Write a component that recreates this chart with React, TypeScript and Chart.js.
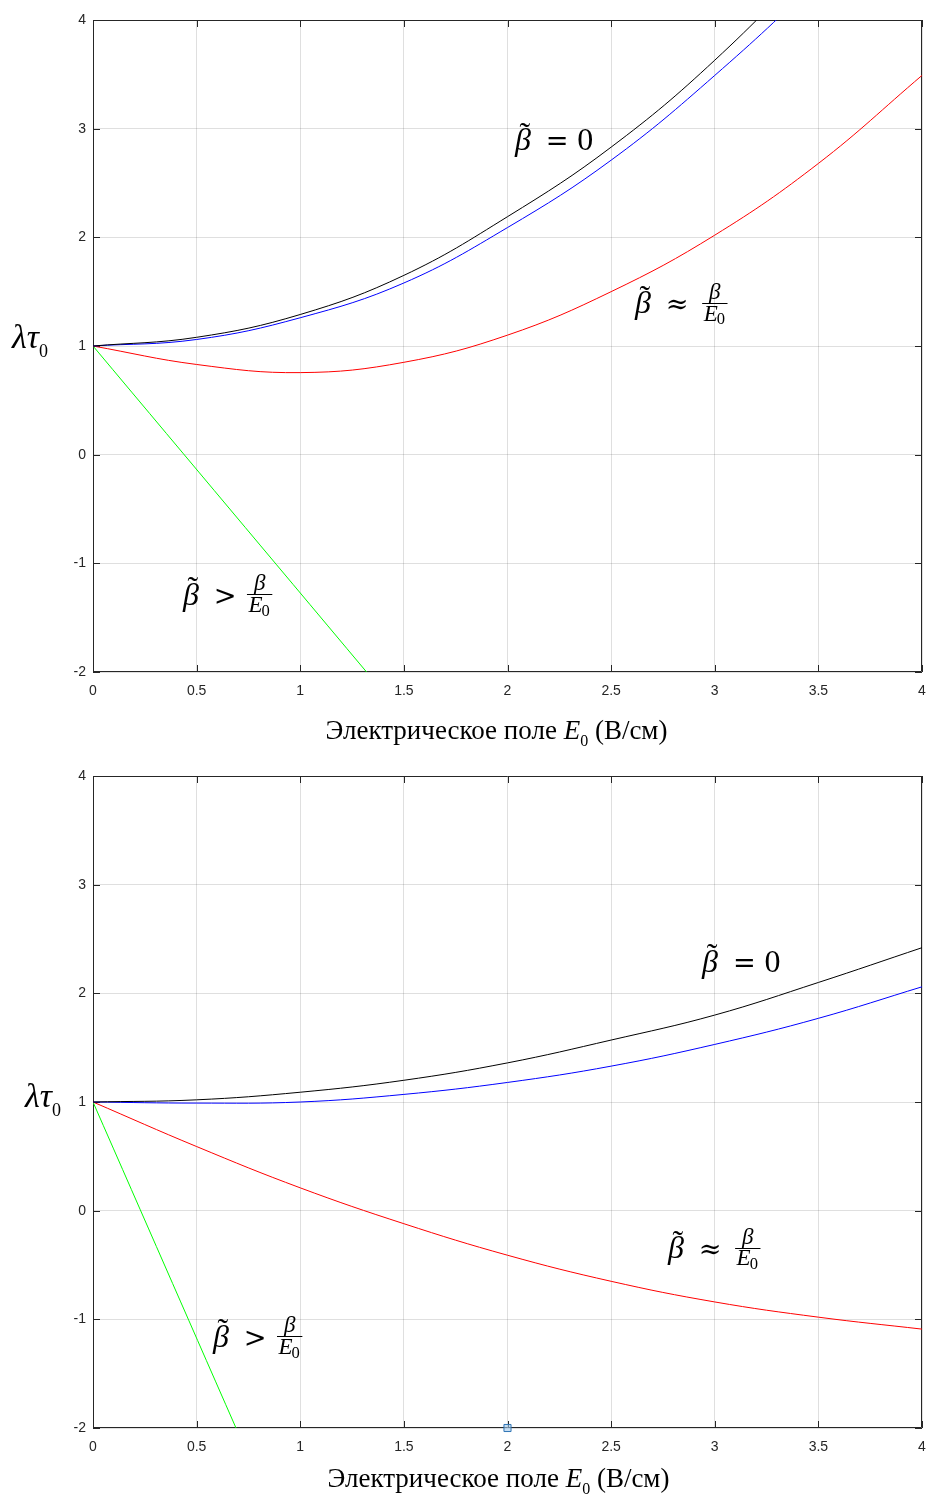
import React, { useEffect, useRef } from "react";
import { Chart, registerables } from "chart.js";

Chart.register(...registerables);

// ---------------- data ----------------
const X_MIN = 0;
const X_MAX = 4;
const X_STEP = 0.5;
const Y_MIN = -2;
const Y_MAX = 4;
const Y_STEP = 1;

// Top panel
const topE = [0, 0.5, 1, 1.5, 2, 2.5, 3, 3.5, 4];
const topBlack = [1, 1.08, 1.29, 1.65, 2.19, 2.83, 3.63, 4.6, 5.7];
const topBlue = [1, 1.06, 1.26, 1.58, 2.09, 2.71, 3.49, 4.38, 5.4];
const topRed = [1, 0.83, 0.755, 0.85, 1.1, 1.5, 2.02, 2.68, 3.49];
const topGreenE = [0, 1.32];
const topGreen = [1, -2];

// Bottom panel
const botE = [0, 0.5, 1, 1.5, 2, 2.5, 3, 3.5, 4];
const botBlack = [1, 1.02, 1.09, 1.2, 1.36, 1.57, 1.8, 2.1, 2.42];
const botBlue = [1, 0.99, 1.0, 1.07, 1.18, 1.33, 1.53, 1.77, 2.06];
const botRed = [1, 0.59, 0.21, -0.12, -0.41, -0.65, -0.84, -0.98, -1.09];
const botGreenE = [0, 0.69];
const botGreen = [1, -2];
const tipE = [2];
const tipVal = [-2];

// Texts
const xTitleMain = "Электрическое поле ";
const xTitleVar = "E";
const xTitleSub = "0";
const xTitleUnit = " (В/см)";

// ---------------- styling ----------------
const AX = "#262626";
const GRID = "rgba(38,38,38,0.15)";
const MATH = '"Liberation Serif", "Times New Roman", serif';
const REL = '"DejaVu Serif", serif';
const TICK_FONT = '"Liberation Sans", Arial, sans-serif';

type Ann = { kind: "eq0" | "approx" | "gt"; x: number; y: number; size: number };

type PanelSpec = {
  padTop: number;
  xAxisHeight: number;
  xTitleBaseline: number;
  xTitleShift: number;
  yLabelLeft: number;
  yLabelDy: number;
  annotations: Ann[];
};

function pts(xs: number[], ys: number[]) {
  return xs.map((x, i) => ({ x, y: ys[i] }));
}

function betaTilde(ctx: CanvasRenderingContext2D, x: number, base: number, size: number) {
  ctx.textAlign = "left";
  ctx.font = `italic ${size}px ${MATH}`;
  ctx.fillText("β", x, base);
  const w = ctx.measureText("β").width;
  ctx.font = `${size}px ${MATH}`;
  ctx.textAlign = "center";
  ctx.fillText("˜", x + w * 0.62, base - size * 0.2);
  ctx.textAlign = "left";
}

function relation(ctx: CanvasRenderingContext2D, sym: string, x: number, base: number, size: number) {
  ctx.font = `${size * 0.85}px ${REL}`;
  ctx.textAlign = "center";
  ctx.fillText(sym, x + size * 0.37, base);
  ctx.textAlign = "left";
}

function fracBetaE0(ctx: CanvasRenderingContext2D, x: number, base: number, size: number) {
  const fs = size * 0.72;
  const barY = base - size * 0.32;
  ctx.font = `italic ${fs}px ${MATH}`;
  const wE = ctx.measureText("E").width;
  ctx.font = `${fs * 0.72}px ${MATH}`;
  const w0 = ctx.measureText("0").width;
  const denW = wE + w0;
  const barW = denW + 3;
  ctx.fillRect(x, Math.round(barY), barW, 1);
  ctx.font = `italic ${fs}px ${MATH}`;
  ctx.textAlign = "center";
  ctx.fillText("β", x + barW / 2, barY - 4);
  ctx.textAlign = "left";
  const dx = x + (barW - denW) / 2;
  const dBase = barY + fs * 0.72 + 1;
  ctx.fillText("E", dx, dBase);
  ctx.font = `${fs * 0.72}px ${MATH}`;
  ctx.fillText("0", dx + wE - 1, dBase + fs * 0.16);
}

const decorPlugin = {
  id: "decor",
  beforeDatasetsDraw(chart: any) {
    const ctx: CanvasRenderingContext2D = chart.ctx;
    const { left, right, top, bottom } = chart.chartArea;
    const xs = chart.scales.x;
    const ys = chart.scales.y;
    ctx.save();
    ctx.strokeStyle = AX;
    ctx.lineWidth = 1;
    ctx.beginPath();
    ctx.rect(Math.round(left) + 0.5, Math.round(top) + 0.5, Math.round(right - left) - 1, Math.round(bottom - top) - 1);
    ctx.stroke();
    const tl = 7;
    ctx.beginPath();
    for (let v = X_MIN; v <= X_MAX + 1e-9; v += X_STEP) {
      const px = Math.round(xs.getPixelForValue(v)) + 0.5;
      ctx.moveTo(px, bottom);
      ctx.lineTo(px, bottom - tl);
      ctx.moveTo(px, top);
      ctx.lineTo(px, top + tl);
    }
    for (let v = Y_MIN; v <= Y_MAX + 1e-9; v += Y_STEP) {
      const py = Math.round(ys.getPixelForValue(v)) + 0.5;
      ctx.moveTo(left, py);
      ctx.lineTo(left + tl, py);
      ctx.moveTo(right, py);
      ctx.lineTo(right - tl, py);
    }
    ctx.stroke();
    ctx.restore();
  },
  afterDraw(chart: any) {
    const spec: PanelSpec = chart.options.plugins.decor.spec;
    const ctx: CanvasRenderingContext2D = chart.ctx;
    const { left, right, bottom } = chart.chartArea;
    const xs = chart.scales.x;
    const ys = chart.scales.y;
    ctx.save();
    ctx.fillStyle = "#000";
    ctx.textBaseline = "alphabetic";

    // x title
    const tSize = 27;
    const subSize = 16;
    ctx.font = `${tSize}px ${MATH}`;
    const w1 = ctx.measureText(xTitleMain).width;
    const w3 = ctx.measureText(xTitleUnit).width;
    ctx.font = `italic ${tSize}px ${MATH}`;
    const w2 = ctx.measureText(xTitleVar).width;
    ctx.font = `${subSize}px ${MATH}`;
    const ws = ctx.measureText(xTitleSub).width;
    const total = w1 + w2 + ws + w3;
    let tx = (left + right) / 2 + spec.xTitleShift - total / 2;
    const tb = bottom + spec.xTitleBaseline;
    ctx.textAlign = "left";
    ctx.font = `${tSize}px ${MATH}`;
    ctx.fillText(xTitleMain, tx, tb);
    tx += w1;
    ctx.font = `italic ${tSize}px ${MATH}`;
    ctx.fillText(xTitleVar, tx, tb);
    tx += w2;
    ctx.font = `${subSize}px ${MATH}`;
    ctx.fillText(xTitleSub, tx, tb + 7);
    tx += ws;
    ctx.font = `${tSize}px ${MATH}`;
    ctx.fillText(xTitleUnit, tx, tb);

    // y label  λτ0
    const yb = ys.getPixelForValue(1) + spec.yLabelDy;
    ctx.font = `italic 34px ${MATH}`;
    ctx.fillText("λτ", spec.yLabelLeft, yb);
    const wl = ctx.measureText("λτ").width;
    ctx.font = `18px ${MATH}`;
    ctx.fillText("0", spec.yLabelLeft + wl, yb + 9);

    // annotations
    for (const a of spec.annotations) {
      const x0 = xs.getPixelForValue(a.x);
      const b = ys.getPixelForValue(a.y);
      const s = a.size;
      betaTilde(ctx, x0, b, s);
      if (a.kind === "eq0") {
        relation(ctx, "=", x0 + s * 0.95, b, s);
        ctx.font = `${s}px ${MATH}`;
        ctx.fillText("0", x0 + s * 1.95, b);
      } else if (a.kind === "approx") {
        relation(ctx, "≈", x0 + s * 0.95, b, s);
        fracBetaE0(ctx, x0 + s * 2.1, b, s);
      } else {
        relation(ctx, ">", x0 + s * 0.95, b, s);
        fracBetaE0(ctx, x0 + s * 2.0, b, s);
      }
    }
    ctx.restore();
  },
};

function buildConfig(spec: PanelSpec, series: { e: number[]; v: number[]; color: string }[], tip: boolean): any {
  const datasets: any[] = series.map((s) => ({
    data: pts(s.e, s.v),
    borderColor: s.color,
    backgroundColor: s.color,
    borderWidth: 1,
    pointRadius: 0,
    fill: false,
    tension: 0.4,
  }));
  if (tip) {
    datasets.push({
      data: pts(tipE, tipVal),
      showLine: false,
      pointStyle: "rect",
      pointRadius: 5,
      pointBorderWidth: 1,
      pointBorderColor: "#2f74b5",
      pointBackgroundColor: "rgba(160,200,235,0.6)",
      borderColor: "#2f74b5",
      clip: false,
    });
  }
  return {
    type: "line",
    data: { datasets },
    options: {
      animation: false,
      responsive: false,
      events: [],
      layout: { padding: { left: 0, top: spec.padTop, right: 6, bottom: 0 } },
      scales: {
        x: {
          type: "linear",
          min: X_MIN,
          max: X_MAX,
          ticks: {
            stepSize: X_STEP,
            autoSkip: false,
            maxRotation: 0,
            color: AX,
            padding: 11,
            font: { family: TICK_FONT, size: 14 },
            callback: (v: number) => String(v),
          },
          grid: { color: GRID, drawTicks: false, lineWidth: 1 },
          border: { display: false },
          afterFit: (s: any) => {
            s.height = spec.xAxisHeight;
            s.paddingLeft = 0;
            s.paddingRight = 0;
          },
        },
        y: {
          type: "linear",
          min: Y_MIN,
          max: Y_MAX,
          ticks: {
            stepSize: Y_STEP,
            color: AX,
            padding: 7,
            font: { family: TICK_FONT, size: 14 },
            callback: (v: number) => String(v),
          },
          grid: { color: GRID, drawTicks: false, lineWidth: 1 },
          border: { display: false },
          afterFit: (s: any) => {
            s.width = 93;
            s.paddingTop = 0;
            s.paddingBottom = 0;
          },
        },
      },
      plugins: {
        legend: { display: false },
        tooltip: { enabled: false },
        decor: { spec },
      },
    },
    plugins: [decorPlugin],
  };
}

const topSpec: PanelSpec = {
  padTop: 20,
  xAxisHeight: 80,
  xTitleBaseline: 67,
  xTitleShift: -11,
  yLabelLeft: 12,
  yLabelDy: 2,
  annotations: [
    { kind: "eq0", x: 2.036, y: 2.8, size: 32 },
    { kind: "approx", x: 2.615, y: 1.3, size: 32 },
    { kind: "gt", x: 0.434, y: -1.38, size: 32 },
  ],
};

const botSpec: PanelSpec = {
  padTop: 24,
  xAxisHeight: 76,
  xTitleBaseline: 59,
  xTitleShift: -9,
  yLabelLeft: 25,
  yLabelDy: 5,
  annotations: [
    { kind: "eq0", x: 2.939, y: 2.2, size: 32 },
    { kind: "approx", x: 2.774, y: -0.435, size: 32 },
    { kind: "gt", x: 0.579, y: -1.25, size: 32 },
  ],
};

function Panel({ spec, series, tip, top }: { spec: PanelSpec; series: any[]; tip: boolean; top: number }) {
  const ref = useRef<HTMLCanvasElement | null>(null);
  useEffect(() => {
    if (!ref.current) return;
    const chart = new Chart(ref.current, buildConfig(spec, series, tip));
    return () => chart.destroy();
  }, []);
  return (
    <canvas
      ref={ref}
      width={928}
      height={752}
      style={{ position: "absolute", left: 0, top, width: 928, height: 752, display: "block" }}
    />
  );
}

export default function App() {
  const topSeries = [
    { e: topE, v: topBlack, color: "#000000" },
    { e: topE, v: topBlue, color: "#0000ff" },
    { e: topE, v: topRed, color: "#ff0000" },
    { e: topGreenE, v: topGreen, color: "#00ff00" },
  ];
  const botSeries = [
    { e: botE, v: botBlack, color: "#000000" },
    { e: botE, v: botBlue, color: "#0000ff" },
    { e: botE, v: botRed, color: "#ff0000" },
    { e: botGreenE, v: botGreen, color: "#00ff00" },
  ];
  return (
    <div style={{ position: "absolute", left: 0, top: 0, width: 928, height: 1504, background: "#fff" }}>
      <Panel spec={topSpec} series={topSeries} tip={false} top={0} />
      <Panel spec={botSpec} series={botSeries} tip={true} top={752} />
    </div>
  );
}
